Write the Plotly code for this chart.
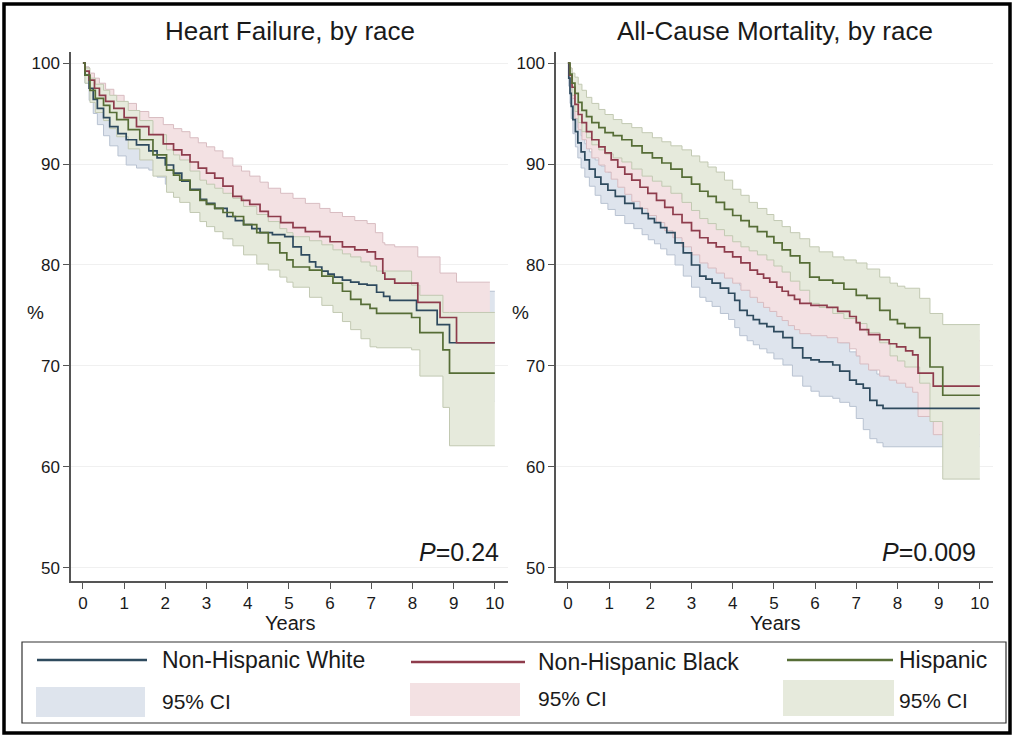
import plotly.graph_objects as go

# ---------------- DATA ----------------
years_ticks = [0, 1, 2, 3, 4, 5, 6, 7, 8, 9, 10]
pct_ticks = [50, 60, 70, 80, 90, 100]

# Heart failure, Non-Hispanic White
hf_white_t = [0, 0.05, 0.15, 0.25, 0.35, 0.5, 0.65, 0.85, 1.05, 1.3, 1.6, 1.8, 2.0, 2.2, 2.4, 2.6, 2.85, 3.0, 3.2, 3.5,
              3.7, 3.9, 4.1, 4.3, 4.6, 4.9, 5.1, 5.3, 5.5, 5.65, 5.8, 5.95, 6.1, 6.3, 6.5, 6.7, 6.9, 7.13, 7.3, 7.45,
              7.7, 8.1, 8.6, 8.9, 10]
hf_white_est = [100, 98.8, 97.5, 96.4, 95.5, 94.6, 93.7, 93.0, 92.4, 91.9, 91.3, 90.6, 89.9, 89.1, 88.3, 87.5, 86.5, 86.1, 85.6, 84.8,
                84.4, 84.0, 83.6, 83.2, 83.0, 82.8, 81.8, 81.0, 80.3, 79.8, 79.4, 79.1, 78.8, 78.5, 78.3, 78.1, 78.0, 77.3, 76.9, 76.5,
                76.5, 75.5, 74.1, 72.3, 72.3]
hf_white_hi = [100, 99.6, 98.6, 97.7, 96.9, 96.0, 95.2, 94.5, 94.0, 93.5, 93.0, 92.4, 91.7, 91.0, 90.2, 89.4, 88.5, 88.1, 87.6, 86.9,
               86.5, 86.1, 85.8, 85.4, 85.2, 85.1, 84.2, 83.4, 82.8, 82.3, 81.9, 81.6, 81.4, 81.2, 81.0, 80.8, 80.7, 80.1, 79.7, 79.4,
               79.2, 78.6, 77.5, 77.4, 77.4]
hf_white_lo = [100, 98.0, 96.3, 95.0, 93.9, 92.8, 91.8, 90.8, 89.9, 89.6, 89.4, 88.7, 88.0, 87.1, 86.3, 85.4, 84.4, 83.9, 83.5, 82.6,
               82.2, 81.8, 81.3, 80.9, 80.6, 80.4, 79.4, 78.6, 77.8, 77.3, 76.8, 76.5, 76.2, 75.9, 75.6, 75.4, 75.3, 74.5, 74.0, 73.6,
               73.3, 72.4, 70.7, 66.5, 66.5]

# Heart failure, Non-Hispanic Black
hf_black_t = [0, 0.05, 0.15, 0.28, 0.4, 0.55, 0.75, 1.0, 1.3, 1.6, 1.95, 2.2, 2.4, 2.6, 2.8, 3.0, 3.2, 3.4, 3.64, 3.85,
              4.05, 4.3, 4.5, 4.8, 5.1, 5.4, 5.75, 6.0, 6.3, 6.6, 6.9, 7.1, 7.28, 7.33, 7.57, 8.13, 8.67, 9.07, 10]
hf_black_est = [100, 99.2, 98.3, 97.5, 96.8, 96.2, 95.5, 94.6, 93.7, 92.9, 92.0, 91.4, 90.9, 90.2, 89.6, 89.1, 88.6, 87.8, 86.8, 86.4,
                86.0, 85.3, 84.8, 84.2, 83.7, 83.3, 82.8, 82.3, 81.8, 81.5, 81.3, 80.6, 79.2, 78.6, 78.2, 76.3, 74.8, 72.3, 72.3]
hf_black_hi = [100, 99.6, 99.0, 98.5, 98.0, 97.4, 96.8, 96.0, 95.2, 94.6, 93.9, 93.5, 93.2, 92.6, 92.1, 91.7, 91.3, 90.6, 89.8, 89.3,
               88.8, 88.2, 87.6, 87.1, 86.6, 86.1, 85.6, 85.2, 84.8, 84.4, 84.1, 83.2, 82.2, 82.0, 81.8, 80.8, 79.2, 78.3, 78.3]
hf_black_lo = [100, 98.7, 97.4, 96.4, 95.5, 94.8, 94.0, 93.0, 92.0, 91.1, 90.0, 89.3, 88.7, 87.9, 87.2, 86.6, 86.0, 85.1, 84.0, 83.6,
               83.1, 82.4, 81.8, 81.2, 80.6, 80.2, 79.7, 79.2, 78.6, 78.3, 78.0, 77.3, 75.9, 75.4, 75.0, 73.0, 71.2, 68.0, 68.0]
hf_black_ci_end = 9.88

# Heart failure, Hispanic
hf_hisp_t = [0, 0.05, 0.17, 0.3, 0.5, 0.65, 0.82, 1.1, 1.38, 1.7, 2.03, 2.2, 2.35, 2.6, 2.84, 3.0, 3.2, 3.4, 3.64, 3.9,
             4.22, 4.5, 4.78, 4.95, 5.1, 5.5, 5.8, 6.07, 6.3, 6.5, 6.75, 6.97, 7.13, 7.98, 8.18, 8.74, 8.9, 10]
hf_hisp_est = [100, 98.8, 97.3, 96.5, 95.8, 95.1, 94.4, 93.4, 92.4, 90.9, 89.4, 88.9, 88.4, 87.4, 86.4, 86.0, 85.6, 85.2, 84.8, 84.0,
               83.2, 82.2, 81.2, 80.5, 79.8, 79.5, 78.9, 78.2, 77.4, 76.6, 76.1, 75.7, 75.2, 74.8, 73.3, 71.6, 69.3, 69.3]
hf_hisp_hi = [100, 99.5, 98.5, 97.9, 97.3, 96.8, 96.2, 95.3, 94.3, 92.9, 91.4, 90.9, 90.4, 89.3, 88.4, 88.0, 87.6, 87.1, 86.6, 85.8,
              85.0, 84.3, 83.6, 83.2, 82.8, 82.4, 82.0, 81.5, 81.1, 80.8, 80.3, 79.9, 79.4, 78.0, 77.0, 75.3, 75.3, 75.3]
hf_hisp_lo = [100, 98.0, 96.1, 95.1, 94.3, 93.5, 92.7, 91.5, 90.4, 88.8, 87.2, 86.7, 86.2, 85.2, 84.3, 83.8, 83.3, 82.6, 81.9, 81.0,
              80.1, 79.5, 78.8, 78.3, 77.8, 76.8, 76.0, 75.3, 74.4, 73.6, 72.7, 71.9, 71.8, 71.6, 69.0, 65.9, 62.1, 62.1]

# All-cause mortality, Non-Hispanic White
acm_white_t = [0, 0.02, 0.05, 0.08, 0.12, 0.18, 0.24, 0.32, 0.41, 0.52, 0.66, 0.8, 0.97, 1.15, 1.38, 1.6, 1.8, 1.95, 2.1, 2.25,
               2.4, 2.6, 2.8, 3.0, 3.2, 3.35, 3.5, 3.7, 3.9, 4.05, 4.17, 4.35, 4.5, 4.65, 4.83, 5.0, 5.22, 5.45, 5.7, 5.9,
               6.1, 6.43, 6.6, 6.84, 7.0, 7.17, 7.33, 7.5, 7.65, 10]
acm_white_est = [100, 98.5, 97.0, 95.7, 94.4, 93.2, 92.1, 91.2, 90.4, 89.5, 88.7, 88.0, 87.4, 86.8, 86.1, 85.6, 85.1, 84.6, 84.2, 83.7,
                 83.2, 82.2, 81.2, 80.0, 78.9, 78.6, 78.2, 77.7, 77.2, 76.5, 75.5, 75.0, 74.6, 74.2, 73.9, 73.4, 72.8, 71.8, 70.8, 70.6,
                 70.4, 70.1, 69.5, 68.6, 68.2, 67.8, 66.6, 66.1, 65.8, 65.8]
acm_white_hi = [100, 99.3, 98.0, 96.9, 95.8, 94.7, 93.6, 92.8, 92.0, 91.2, 90.4, 89.8, 89.2, 88.6, 88.0, 87.5, 87.1, 86.6, 86.2, 85.8,
                85.3, 84.4, 83.4, 82.3, 81.3, 80.9, 80.5, 80.1, 79.6, 78.9, 78.0, 77.5, 77.1, 76.7, 76.4, 75.9, 75.4, 74.4, 73.5, 73.3,
                73.1, 72.9, 72.3, 71.4, 71.0, 70.7, 69.6, 69.2, 69.0, 69.0]
acm_white_lo = [100, 97.7, 96.0, 94.5, 93.0, 91.7, 90.6, 89.6, 88.7, 87.8, 86.9, 86.1, 85.5, 84.9, 84.1, 83.6, 83.0, 82.5, 82.1, 81.6,
                81.0, 80.0, 78.9, 77.8, 76.8, 76.4, 75.9, 75.2, 74.6, 73.8, 73.0, 72.5, 72.1, 71.7, 71.3, 70.7, 70.1, 69.0, 68.0, 67.5,
                67.0, 66.8, 66.4, 66.0, 64.8, 63.7, 62.8, 62.4, 62.0, 62.0]

# All-cause mortality, Non-Hispanic Black
acm_black_t = [0, 0.04, 0.1, 0.17, 0.25, 0.34, 0.45, 0.58, 0.75, 0.9, 1.05, 1.21, 1.38, 1.55, 1.75, 1.94, 2.15, 2.35, 2.55, 2.77,
               3.0, 3.2, 3.4, 3.6, 3.8, 4.0, 4.2, 4.42, 4.6, 4.75, 4.9, 5.07, 5.2, 5.35, 5.5, 5.63, 5.9, 6.29, 6.55, 6.84,
               7.0, 7.09, 7.3, 7.57, 7.8, 7.98, 8.2, 8.37, 8.5, 8.87, 10]
acm_black_est = [100, 98.8, 97.6, 95.9, 94.9, 94.1, 93.2, 92.4, 91.7, 91.1, 90.4, 89.7, 89.0, 88.4, 87.7, 87.1, 86.4, 85.7, 85.0, 84.2,
                 83.4, 82.7, 82.2, 81.8, 81.3, 80.8, 80.2, 79.5, 79.1, 78.7, 78.3, 77.8, 77.4, 77.0, 76.6, 76.2, 76.0, 75.8, 75.4, 74.9,
                 74.3, 73.6, 73.1, 72.6, 72.2, 71.9, 71.5, 71.1, 69.3, 68.0, 68.0]
acm_black_hi = [100, 99.5, 98.6, 97.3, 96.4, 95.7, 94.9, 94.1, 93.5, 92.9, 92.3, 91.6, 91.0, 90.4, 89.8, 89.2, 88.6, 87.9, 87.2, 86.5,
                85.8, 85.1, 84.7, 84.3, 83.8, 83.4, 82.9, 82.2, 81.8, 81.5, 81.1, 80.7, 80.3, 80.0, 79.6, 79.3, 79.1, 79.0, 78.7, 78.3,
                77.8, 77.1, 76.7, 76.3, 75.9, 75.7, 75.4, 75.1, 73.5, 72.5, 72.5]
acm_black_lo = [100, 98.0, 96.5, 94.5, 93.4, 92.4, 91.5, 90.6, 89.9, 89.2, 88.5, 87.7, 87.0, 86.3, 85.6, 84.9, 84.2, 83.4, 82.7, 81.8,
                81.0, 80.2, 79.7, 79.2, 78.7, 78.2, 77.5, 76.8, 76.3, 75.8, 75.4, 74.9, 74.5, 74.0, 73.6, 73.2, 73.0, 72.8, 72.3, 71.7,
                71.0, 70.2, 69.6, 69.0, 68.6, 68.3, 67.9, 67.4, 65.0, 63.2, 63.2]

# All-cause mortality, Hispanic
acm_hisp_t = [0, 0.05, 0.1, 0.17, 0.25, 0.34, 0.45, 0.58, 0.75, 0.9, 1.1, 1.31, 1.55, 1.8, 2.05, 2.28, 2.5, 2.77, 3.0, 3.2,
              3.4, 3.6, 3.8, 4.0, 4.2, 4.4, 4.6, 4.83, 5.0, 5.2, 5.4, 5.63, 5.87, 6.1, 6.43, 6.7, 7.0, 7.26, 7.57, 7.82,
              8.0, 8.18, 8.54, 8.79, 9.1, 10]
acm_hisp_est = [100, 98.9, 98.0, 97.0, 96.1, 95.3, 94.7, 94.1, 93.6, 93.1, 92.8, 92.4, 91.8, 91.1, 90.6, 90.1, 89.5, 88.7, 88.0, 87.3,
                86.8, 86.2, 85.5, 84.9, 84.4, 83.8, 83.3, 82.8, 82.2, 81.5, 80.9, 80.2, 78.8, 78.5, 78.2, 77.6, 77.0, 76.7, 75.5, 74.6,
                74.2, 73.8, 72.8, 69.9, 67.1, 67.1]
acm_hisp_hi = [100, 99.5, 99.0, 98.6, 97.9, 97.3, 96.6, 96.0, 95.4, 94.9, 94.4, 94.0, 93.6, 93.1, 92.6, 92.2, 91.8, 91.4, 90.8, 90.2,
               89.7, 89.2, 88.4, 87.5, 86.9, 86.2, 85.6, 85.0, 84.4, 83.8, 83.2, 82.6, 81.8, 81.3, 80.8, 80.5, 80.2, 79.6, 78.8, 78.2,
               77.9, 77.7, 76.7, 75.2, 74.1, 74.1]
acm_hisp_lo = [100, 98.1, 96.8, 95.2, 94.1, 93.2, 92.6, 91.9, 91.4, 91.0, 90.6, 90.2, 89.5, 88.8, 88.3, 87.8, 87.1, 86.2, 85.4, 84.6,
               84.1, 83.5, 82.9, 82.3, 81.8, 81.4, 81.0, 80.5, 79.9, 79.3, 78.4, 77.5, 76.2, 75.8, 75.2, 74.7, 74.2, 73.3, 72.3, 71.0,
               70.5, 69.9, 68.3, 64.5, 58.8, 58.8]

titles = ["Heart Failure, by race", "All-Cause Mortality, by race"]
p_values = ["<i>P</i>=0.24", "<i>P</i>=0.009"]
group_names = ["Non-Hispanic White", "Non-Hispanic Black", "Hispanic"]
ci_label = "95% CI"

# ---------------- STYLE ----------------
W, H = 1014, 737
FONT = "Liberation Sans, Arial, Helvetica, sans-serif"
line_cols = ["#2e4a5e", "#8e3c4c", "#566d36"]
fill_cols = ["#dee4ed", "#f3e1e3", "#e6eadc"]
edge_cols = ["#b8c2d1", "#d8bcc1", "#c2c9b2"]
TXT = "#1a1a1a"


def fx(x):
    return x / W


def fy(y):
    return 1 - y / H


fig = go.Figure()

panels = [
    dict(ax="x", ay="y",
         groups=[(hf_white_t, hf_white_est, hf_white_lo, hf_white_hi, None),
                 (hf_black_t, hf_black_est, hf_black_lo, hf_black_hi, hf_black_ci_end),
                 (hf_hisp_t, hf_hisp_est, hf_hisp_lo, hf_hisp_hi, None)]),
    dict(ax="x2", ay="y2",
         groups=[(acm_white_t, acm_white_est, acm_white_lo, acm_white_hi, None),
                 (acm_black_t, acm_black_est, acm_black_lo, acm_black_hi, None),
                 (acm_hisp_t, acm_hisp_est, acm_hisp_lo, acm_hisp_hi, None)]),
]

for p in panels:
    # confidence bands (opaque, drawn White -> Black -> Hispanic)
    for gi, (t, est, lo, hi, ci_end) in enumerate(p["groups"]):
        tc = list(t) if ci_end is None else list(t[:-1]) + [ci_end]
        fig.add_trace(go.Scatter(x=tc, y=lo, mode="lines", xaxis=p["ax"], yaxis=p["ay"],
                                 line=dict(color=edge_cols[gi], width=1, shape="hv"),
                                 showlegend=False, hoverinfo="skip"))
        fig.add_trace(go.Scatter(x=tc, y=hi, mode="lines", xaxis=p["ax"], yaxis=p["ay"],
                                 line=dict(color=edge_cols[gi], width=1, shape="hv"),
                                 fill="tonexty", fillcolor=fill_cols[gi],
                                 showlegend=False, hoverinfo="skip"))
    # estimate lines
    for gi, (t, est, lo, hi, ci_end) in enumerate(p["groups"]):
        fig.add_trace(go.Scatter(x=t, y=est, mode="lines", xaxis=p["ax"], yaxis=p["ay"],
                                 line=dict(color=line_cols[gi], width=1.7, shape="hv"),
                                 name=group_names[gi], showlegend=False))

# ---------------- AXES ----------------
y_dom = [fy(581), fy(52)]
x_doms = [[fx(71), fx(508)], [fx(556), fx(993)]]
common_x = dict(range=[-0.29, 10.32], tickvals=years_ticks, ticks="outside", ticklen=6,
                tickwidth=1.2, tickcolor="#555", showline=True, linecolor="#555", linewidth=1.5,
                showgrid=False, zeroline=False, tickfont=dict(family=FONT, size=17, color=TXT))
common_y = dict(range=[48.71, 101.09], tickvals=pct_ticks, ticks="outside", ticklen=6,
                tickwidth=1.2, tickcolor="#555", showline=True, linecolor="#555", linewidth=1.5,
                showgrid=True, gridcolor="#f0f0f0", gridwidth=1, zeroline=False,
                tickfont=dict(family=FONT, size=17, color=TXT), domain=y_dom)

fig.update_layout(
    xaxis=dict(domain=x_doms[0], anchor="y", **common_x),
    yaxis=dict(anchor="x", **common_y),
    xaxis2=dict(domain=x_doms[1], anchor="y2", **common_x),
    yaxis2=dict(anchor="x2", **common_y),
)

# ---------------- TEXT ----------------
ann = []
title_x = [289.5, 774.5]
for i in range(2):
    ann.append(dict(text=titles[i], x=fx(title_x[i]), y=fy(31), xref="paper", yref="paper",
                    xanchor="center", yanchor="middle", showarrow=False,
                    font=dict(family=FONT, size=26, color=TXT)))
    ann.append(dict(text="Years", x=fx(title_x[i]), y=fy(623), xref="paper", yref="paper",
                    xanchor="center", yanchor="middle", showarrow=False,
                    font=dict(family=FONT, size=20, color=TXT)))
p_right = [501, 978]
for i in range(2):
    ann.append(dict(text=p_values[i], x=fx(p_right[i]), y=fy(552), xref="paper", yref="paper",
                    xanchor="right", yanchor="middle", showarrow=False,
                    font=dict(family=FONT, size=25, color=TXT)))
pct_x = [35, 520]
for i in range(2):
    ann.append(dict(text="%", x=fx(pct_x[i]), y=fy(313), xref="paper", yref="paper",
                    xanchor="center", yanchor="middle", showarrow=False,
                    font=dict(family=FONT, size=19, color=TXT)))

# ---------------- LEGEND (drawn) ----------------
shapes = []
# outer frame
shapes.append(dict(type="rect", xref="paper", yref="paper", x0=fx(4), x1=fx(1010), y0=fy(733), y1=fy(4),
                   line=dict(color="black", width=3.5), fillcolor="rgba(0,0,0,0)", layer="above"))
# legend box
shapes.append(dict(type="rect", xref="paper", yref="paper", x0=fx(22), x1=fx(1006), y0=fy(723), y1=fy(642),
                   line=dict(color="#333", width=1.2), fillcolor="rgba(0,0,0,0)"))
leg_line_x = [(37, 147), (411, 525), (787, 893)]
leg_line_y = [660, 662, 660]
leg_box = [(36, 145, 687, 717), (410, 520, 683, 716), (783, 894, 680, 716)]
leg_text_x = [160, 536, 897]
leg_ci_y = [701, 698, 700]
for gi in range(3):
    x0, x1 = leg_line_x[gi]
    shapes.append(dict(type="line", xref="paper", yref="paper", x0=fx(x0), x1=fx(x1),
                       y0=fy(leg_line_y[gi]), y1=fy(leg_line_y[gi]),
                       line=dict(color=line_cols[gi], width=2.5)))
    bx0, bx1, by0, by1 = leg_box[gi]
    shapes.append(dict(type="rect", xref="paper", yref="paper", x0=fx(bx0), x1=fx(bx1),
                       y0=fy(by1), y1=fy(by0), line=dict(width=0), fillcolor=fill_cols[gi]))
    ann.append(dict(text=group_names[gi], x=fx(leg_text_x[gi]), y=fy(leg_line_y[gi]),
                    xref="paper", yref="paper", xanchor="left", yanchor="middle", showarrow=False,
                    font=dict(family=FONT, size=23, color=TXT)))
    ann.append(dict(text=ci_label, x=fx(leg_text_x[gi]), y=fy(leg_ci_y[gi]),
                    xref="paper", yref="paper", xanchor="left", yanchor="middle", showarrow=False,
                    font=dict(family=FONT, size=21, color=TXT)))

fig.update_layout(
    width=W, height=H,
    margin=dict(l=0, r=0, t=0, b=0),
    paper_bgcolor="white", plot_bgcolor="white",
    showlegend=False,
    annotations=ann, shapes=shapes,
    font=dict(family=FONT, color=TXT),
)

fig.write_html("out.html")
